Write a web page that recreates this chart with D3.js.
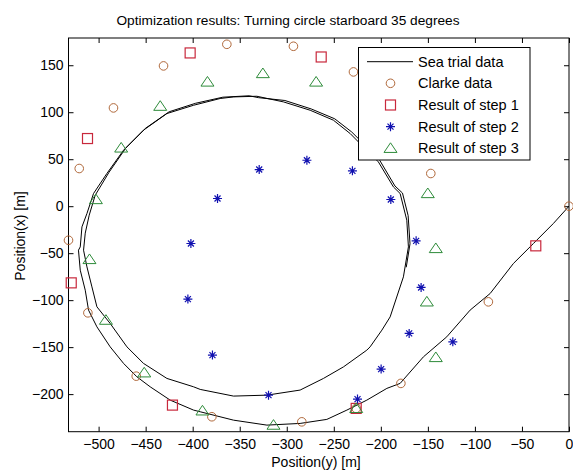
<!DOCTYPE html>
<html>
<head>
<meta charset="utf-8">
<script src="https://cdn.jsdelivr.net/npm/d3@7"></script>
<style>
  html, body { margin: 0; padding: 0; background: #fff; }
  svg { display: block; }
  text { font-family: "Liberation Sans", Arial, Helvetica, sans-serif; }
</style>
</head>
<body>
<svg id="chart" width="573" height="473"></svg>
<script>
// ---------- data ----------
const titleText = "Optimization results: Turning circle starboard 35 degrees";
const xLabelText = "Position(y) [m]";
const yLabelText = "Position(x) [m]";
const xTicks = [-500, -450, -400, -350, -300, -250, -200, -150, -100, -50, 0];
const yTicks = [-200, -150, -100, -50, 0, 50, 100, 150];
const seriesNames = ["Sea trial data", "Clarke data", "Result of step 1", "Result of step 2", "Result of step 3"];

// Sea trial track: [y position, x position]
const seaTrial = [
  [0, 0], [-16.6, -18.4], [-37.8, -39.7], [-59.1, -61.0], [-83.8, -92.9], [-105.1, -110.6],
  [-129.9, -139.0], [-154.7, -160.3], [-179.5, -188.6], [-193.6, -193.9], [-214.9, -206.4],
  [-236.1, -217.0], [-257.4, -226.9], [-285.8, -231.2], [-321.1, -233.0], [-356.6, -227.7],
  [-392.0, -218.8], [-399.1, -217.0], [-423.9, -206.4], [-445.2, -192.2], [-459.3, -181.6],
  [-473.5, -167.3], [-487.7, -149.7], [-501.8, -128.4], [-510.7, -110.6], [-514.2, -89.4],
  [-519.5, -68.1], [-521.4, -46.8], [-519.5, -43.3], [-517.7, -22.0], [-512.4, -7.8],
  [-505.4, 13.5], [-491.2, 34.8], [-473.5, 59.6], [-452.3, 80.9], [-427.4, 98.6],
  [-399.1, 107.4], [-370.8, 114.6], [-356.6, 116.3], [-331.8, 117.0], [-303.5, 111.0],
  [-275.1, 102.1], [-250.4, 91.5], [-232.6, 77.3], [-223.8, 68.4], [-202.6, 47.1],
  [-186.6, 20.5], [-179.5, 13.5], [-172.4, -14.9], [-170.7, -43.3], [-176.0, -75.2],
  [-190.1, -117.8], [-198.9, -131.9], [-211.4, -149.7], [-214.9, -153.2], [-239.7, -171.0],
  [-261.0, -183.3], [-285.8, -195.7], [-321.1, -201.1], [-356.6, -202.1], [-392.0, -195.0],
  [-399.1, -192.2], [-427.4, -183.3], [-452.3, -167.3], [-469.9, -149.7], [-487.7, -124.8],
  [-501.8, -107.1], [-507.1, -85.9], [-512.4, -64.6], [-516.0, -46.8], [-514.2, -28.7],
  [-510.0, -9.6], [-503.6, 11.7], [-489.0, 36.0], [-471.0, 62.0], [-450.0, 83.0],
  [-425.0, 100.5], [-397.0, 109.5], [-368.0, 116.0], [-340.0, 117.5], [-330.0, 115.5],
  [-302.0, 112.5], [-274.0, 103.5], [-249.0, 93.0], [-231.0, 79.0], [-222.0, 70.0],
  [-201.0, 48.5], [-185.0, 21.5], [-177.0, 14.0], [-171.0, -10.0], [-169.0, -40.0],
  [-173.0, -65.0]
];

const clarkeY = [-363.7, -292.9, -229.1, -431.0, -484.2, -520.6, -532.0, -511.4, -460.0, -379.6, -284.0, -226.2, -178.7, -85.7, 0, -146.9];
const clarkeX = [172.3, 170.2, 142.9, 149.3, 104.6, 40.1, -36.2, -113.5, -180.9, -224.1, -229.5, -215.2, -188.6, -101.8, 0, 34.8];

const step1Y = [-402.7, -263.4, -511.8, -529.1, -421.5, -226.2, -35.3];
const step1X = [163.1, 158.8, 72.0, -81.6, -211.7, -215.2, -42.2];

const step2Y = [-329.3, -278.6, -230.2, -373.6, -189.4, -401.9, -405.1, -379.0, -319.4, -224.8, -199.7, -162.5, -157.2, -169.9, -123.5];
const step2X = [39.0, 48.9, 37.6, 8.2, 7.1, -39.7, -98.9, -158.5, -201.1, -205.3, -173.4, -36.9, -86.5, -135.4, -144.4];

const step3Y = [-384.3, -325.4, -268.8, -434.5, -476.0, -502.9, -509.7, -492.2, -451.5, -389.6, -314.1, -226.2, -150.1, -141.6, -151.1, -141.6];
const step3X = [132.2, 141.2, 132.2, 106.4, 62.0, 7.1, -56.7, -121.3, -177.3, -217.8, -233.0, -215.2, 13.5, -45.0, -101.8, -161.0];

// ---------- layout ----------
const svg = d3.select("#chart");
const L = 68.5, R = 569, T = 38, B = 431.7;
const x = d3.scaleLinear().domain([-532, 0]).range([L, R]);
const y = d3.scaleLinear().domain([-240, 179]).range([B, T]);

const colors = {
  clarke: "#b0683a",
  step1: "#c8283c",
  step2: "#1010b0",
  step3: "#2e8b3a"
};

svg.append("rect").attr("width", 573).attr("height", 473).attr("fill", "#fff");

svg.append("clipPath").attr("id", "clip").append("rect")
  .attr("x", L).attr("y", T).attr("width", R - L).attr("height", B - T);

// axes
const fontSize = 14;
const gx = svg.append("g").attr("transform", `translate(0,${B})`)
  .call(d3.axisBottom(x).tickValues(xTicks).tickSizeInner(-5).tickSizeOuter(0).tickPadding(7).tickFormat(d3.format("d")));
const gxt = svg.append("g").attr("transform", `translate(0,${T})`)
  .call(d3.axisTop(x).tickValues(xTicks).tickSizeInner(-5).tickSizeOuter(0).tickFormat(""));
const gy = svg.append("g").attr("transform", `translate(${L},0)`)
  .call(d3.axisLeft(y).tickValues(yTicks).tickSizeInner(-5).tickSizeOuter(0).tickPadding(5).tickFormat(d3.format("d")));
const gyr = svg.append("g").attr("transform", `translate(${R},0)`)
  .call(d3.axisRight(y).tickValues(yTicks).tickSizeInner(-5).tickSizeOuter(0).tickFormat(""));

[gx, gxt, gy, gyr].forEach(g => {
  g.select(".domain").remove();
  g.selectAll("line").attr("stroke", "#000");
  g.selectAll("text").attr("font-size", fontSize).attr("fill", "#000")
    .attr("font-family", "'Liberation Sans', Arial, sans-serif");
});

// box
svg.append("rect").attr("x", L).attr("y", T).attr("width", R - L).attr("height", B - T)
  .attr("fill", "none").attr("stroke", "#000").attr("stroke-width", 1);

const plot = svg.append("g").attr("clip-path", "url(#clip)");

// sea trial line
plot.append("path")
  .datum(seaTrial)
  .attr("fill", "none")
  .attr("stroke", "#000")
  .attr("stroke-width", 1)
  .attr("d", d3.line().x(d => x(d[0])).y(d => y(d[1])));

// marker shape helpers
function circleMarker(g, cx, cy, c) {
  g.append("circle").attr("cx", cx).attr("cy", cy).attr("r", 4.3)
    .attr("fill", "none").attr("stroke", c).attr("stroke-width", 1);
}
function squareMarker(g, cx, cy, c) {
  g.append("rect").attr("x", cx - 5).attr("y", cy - 5).attr("width", 10).attr("height", 10)
    .attr("fill", "none").attr("stroke", c).attr("stroke-width", 1.2);
}
function starMarker(g, cx, cy, c) {
  const a = 4.5, b = 3;
  const p = `M${cx - a},${cy}L${cx + a},${cy}M${cx},${cy - a}L${cx},${cy + a}` +
            `M${cx - b},${cy - b}L${cx + b},${cy + b}M${cx - b},${cy + b}L${cx + b},${cy - b}`;
  g.append("path").attr("d", p).attr("stroke", c).attr("stroke-width", 1.2).attr("fill", "none");
}
function triMarker(g, cx, cy, c) {
  const h = 5.5, w = 6.5;
  const p = `M${cx},${cy - h}L${cx + w},${cy + h * 0.75}L${cx - w},${cy + h * 0.75}Z`;
  g.append("path").attr("d", p).attr("stroke", c).attr("stroke-width", 1).attr("fill", "none");
}

const mg = svg.append("g");
clarkeY.forEach((v, i) => circleMarker(mg, x(v), y(clarkeX[i]), colors.clarke));
step1Y.forEach((v, i) => squareMarker(mg, x(v), y(step1X[i]), colors.step1));
step2Y.forEach((v, i) => starMarker(mg, x(v), y(step2X[i]), colors.step2));
step3Y.forEach((v, i) => triMarker(mg, x(v), y(step3X[i]), colors.step3));

// title and labels
svg.append("text").attr("x", 288).attr("y", 25).attr("text-anchor", "middle")
  .attr("font-size", 13.7).text(titleText);
svg.append("text").attr("x", 316).attr("y", 467).attr("text-anchor", "middle")
  .attr("font-size", 14).text(xLabelText);
svg.append("text").attr("transform", "translate(25,236) rotate(-90)").attr("text-anchor", "middle")
  .attr("font-size", 14).text(yLabelText);

// legend
const lg = svg.append("g");
lg.append("rect").attr("x", 358.5).attr("y", 47.5).attr("width", 171.5).attr("height", 112.5)
  .attr("fill", "#fff").attr("stroke", "#000").attr("stroke-width", 1);
const rowY = [61.7, 83.3, 105, 126.7, 148.3];
lg.append("line").attr("x1", 367).attr("x2", 413).attr("y1", rowY[0]).attr("y2", rowY[0])
  .attr("stroke", "#000").attr("stroke-width", 1);
circleMarker(lg, 390.5, rowY[1], colors.clarke);
squareMarker(lg, 390.5, rowY[2], colors.step1);
starMarker(lg, 390.5, rowY[3], colors.step2);
triMarker(lg, 390.5, rowY[4], colors.step3);
seriesNames.forEach((n, i) => {
  lg.append("text").attr("x", 418).attr("y", rowY[i]).attr("dy", "0.35em")
    .attr("font-size", 14.5).text(n);
});
</script>
</body>
</html>
